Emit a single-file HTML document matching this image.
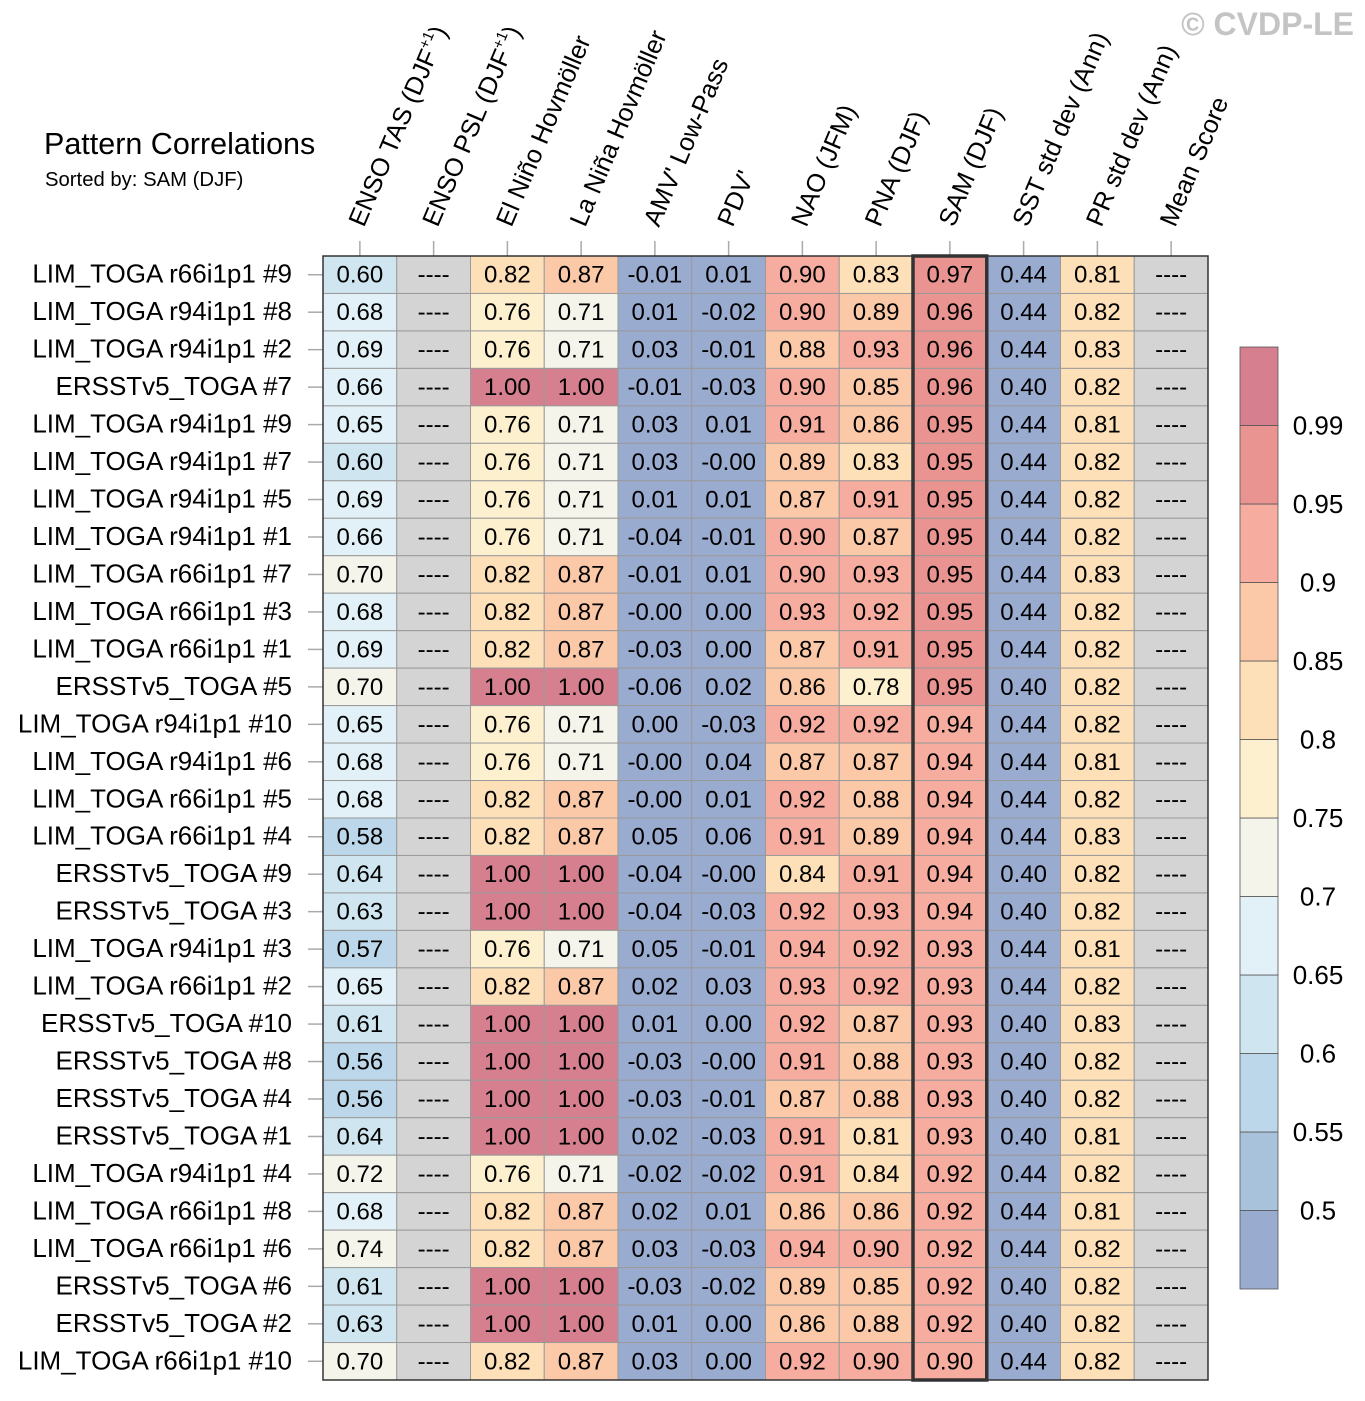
<!DOCTYPE html>
<html><head><meta charset="utf-8"><style>
html,body{margin:0;padding:0;background:#fff}
svg{display:block;font-family:"Liberation Sans",sans-serif}
</style></head><body>
<svg id="chart" width="1365" height="1401" viewBox="0 0 1365 1401" xmlns="http://www.w3.org/2000/svg">
<text x="1354" y="35" text-anchor="end" font-size="32" font-weight="bold" fill="#c4c4c4">© CVDP-LE</text>
<text x="44" y="154" font-size="30.5" fill="#000">Pattern Correlations</text>
<text x="45" y="186" font-size="20.3" fill="#000">Sorted by: SAM (DJF)</text>
<g id="heat"></g>
<g id="cbar"></g>
</svg>
<script>
const columns=["ENSO TAS (DJF+1)","ENSO PSL (DJF+1)","El Niño Hovmöller","La Niña Hovmöller","AMV' Low-Pass","PDV'","NAO (JFM)","PNA (DJF)","SAM (DJF)","SST std dev (Ann)","PR std dev (Ann)","Mean Score"];
const rowLabels=["LIM_TOGA r66i1p1 #9","LIM_TOGA r94i1p1 #8","LIM_TOGA r94i1p1 #2","ERSSTv5_TOGA #7","LIM_TOGA r94i1p1 #9","LIM_TOGA r94i1p1 #7","LIM_TOGA r94i1p1 #5","LIM_TOGA r94i1p1 #1","LIM_TOGA r66i1p1 #7","LIM_TOGA r66i1p1 #3","LIM_TOGA r66i1p1 #1","ERSSTv5_TOGA #5","LIM_TOGA r94i1p1 #10","LIM_TOGA r94i1p1 #6","LIM_TOGA r66i1p1 #5","LIM_TOGA r66i1p1 #4","ERSSTv5_TOGA #9","ERSSTv5_TOGA #3","LIM_TOGA r94i1p1 #3","LIM_TOGA r66i1p1 #2","ERSSTv5_TOGA #10","ERSSTv5_TOGA #8","ERSSTv5_TOGA #4","ERSSTv5_TOGA #1","LIM_TOGA r94i1p1 #4","LIM_TOGA r66i1p1 #8","LIM_TOGA r66i1p1 #6","ERSSTv5_TOGA #6","ERSSTv5_TOGA #2","LIM_TOGA r66i1p1 #10"];
const values=[
[0.60,null,0.82,0.87,-0.01,0.01,0.90,0.83,0.97,0.44,0.81,null],
[0.68,null,0.76,0.71,0.01,-0.02,0.90,0.89,0.96,0.44,0.82,null],
[0.69,null,0.76,0.71,0.03,-0.01,0.88,0.93,0.96,0.44,0.83,null],
[0.66,null,1.00,1.00,-0.01,-0.03,0.90,0.85,0.96,0.40,0.82,null],
[0.65,null,0.76,0.71,0.03,0.01,0.91,0.86,0.95,0.44,0.81,null],
[0.60,null,0.76,0.71,0.03,-0.00,0.89,0.83,0.95,0.44,0.82,null],
[0.69,null,0.76,0.71,0.01,0.01,0.87,0.91,0.95,0.44,0.82,null],
[0.66,null,0.76,0.71,-0.04,-0.01,0.90,0.87,0.95,0.44,0.82,null],
[0.70,null,0.82,0.87,-0.01,0.01,0.90,0.93,0.95,0.44,0.83,null],
[0.68,null,0.82,0.87,-0.00,0.00,0.93,0.92,0.95,0.44,0.82,null],
[0.69,null,0.82,0.87,-0.03,0.00,0.87,0.91,0.95,0.44,0.82,null],
[0.70,null,1.00,1.00,-0.06,0.02,0.86,0.78,0.95,0.40,0.82,null],
[0.65,null,0.76,0.71,0.00,-0.03,0.92,0.92,0.94,0.44,0.82,null],
[0.68,null,0.76,0.71,-0.00,0.04,0.87,0.87,0.94,0.44,0.81,null],
[0.68,null,0.82,0.87,-0.00,0.01,0.92,0.88,0.94,0.44,0.82,null],
[0.58,null,0.82,0.87,0.05,0.06,0.91,0.89,0.94,0.44,0.83,null],
[0.64,null,1.00,1.00,-0.04,-0.00,0.84,0.91,0.94,0.40,0.82,null],
[0.63,null,1.00,1.00,-0.04,-0.03,0.92,0.93,0.94,0.40,0.82,null],
[0.57,null,0.76,0.71,0.05,-0.01,0.94,0.92,0.93,0.44,0.81,null],
[0.65,null,0.82,0.87,0.02,0.03,0.93,0.92,0.93,0.44,0.82,null],
[0.61,null,1.00,1.00,0.01,0.00,0.92,0.87,0.93,0.40,0.83,null],
[0.56,null,1.00,1.00,-0.03,-0.00,0.91,0.88,0.93,0.40,0.82,null],
[0.56,null,1.00,1.00,-0.03,-0.01,0.87,0.88,0.93,0.40,0.82,null],
[0.64,null,1.00,1.00,0.02,-0.03,0.91,0.81,0.93,0.40,0.81,null],
[0.72,null,0.76,0.71,-0.02,-0.02,0.91,0.84,0.92,0.44,0.82,null],
[0.68,null,0.82,0.87,0.02,0.01,0.86,0.86,0.92,0.44,0.81,null],
[0.74,null,0.82,0.87,0.03,-0.03,0.94,0.90,0.92,0.44,0.82,null],
[0.61,null,1.00,1.00,-0.03,-0.02,0.89,0.85,0.92,0.40,0.82,null],
[0.63,null,1.00,1.00,0.01,0.00,0.86,0.88,0.92,0.40,0.82,null],
[0.70,null,0.82,0.87,0.03,0.00,0.92,0.90,0.90,0.44,0.82,null]];
const levels=[0.5,0.55,0.6,0.65,0.7,0.75,0.8,0.85,0.9,0.95,0.99];
const levelLabels=["0.5","0.55","0.6","0.65","0.7","0.75","0.8","0.85","0.9","0.95","0.99"];
const palette=["#9aabd0","#a9c2dc","#bcd7e9","#cfe6f0","#e2f1f7","#f4f4ea","#fdf0cf","#fde0b8","#fbc9a8","#f6ad9f","#e99490","#d57f8f"];
const highlightCol=8;

const NS="http://www.w3.org/2000/svg";
function mk(t,a,p){const e=document.createElementNS(NS,t);for(const k in a)e.setAttribute(k,a[k]);p.appendChild(e);return e;}
const X0=323,X1=1208,Y0=256,Y1=1380;
const cw=(X1-X0)/columns.length, rh=(Y1-Y0)/rowLabels.length;
const xc=i=>X0+i*cw, yr=j=>Y0+j*rh;
function color(v){if(v===null)return "#d4d4d4";let k=0;while(k<levels.length&&v>=levels[k]-1e-9)k++;return palette[k];}
function fmt(v){if(v===null)return "----";const s=Math.abs(v).toFixed(2);return (v<0||Object.is(v,-0))?"-"+s:s;}
const g=document.getElementById('heat');
values.forEach((row,j)=>{row.forEach((v,i)=>{
  const r=mk('rect',{x:xc(i),y:yr(j),width:cw,height:rh,fill:color(v),stroke:"#9a9a9a","stroke-width":1},g);
  
  
  const t=mk('text',{x:xc(i)+cw/2,y:yr(j)+rh/2+8,"text-anchor":"middle","font-size":24,fill:"#000"},g);
  
  
  t.textContent=fmt(v);
});});
rowLabels.forEach((l,j)=>{
  const t=mk('text',{x:292,y:yr(j)+rh/2+8,"text-anchor":"end","font-size":26,fill:"#000"},g);
  
  
  t.textContent=l;
  const tk=mk('line',{x1:308,x2:X0,y1:yr(j)+rh/2,y2:yr(j)+rh/2,stroke:"#aaa","stroke-width":1.5},g);
  
  
});
columns.forEach((c,i)=>{
  const cx=xc(i)+cw/2;
  const tk=mk('line',{x1:cx,x2:cx,y1:241,y2:Y0,stroke:"#aaa","stroke-width":1.5},g);
  
  
  const t=mk('text',{x:0,y:0,"font-size":25.5,fill:"#000",transform:`translate(${cx+4},228) rotate(-67)`},g);
  
  
  const m=c.match(/^(.*\(DJF)\+1\)$/);
  if(m){t.textContent=m[1];const s=mk('tspan',{"font-size":15,dy:-11},t);s.textContent="+1";const s2=mk('tspan',{dy:11},t);s2.textContent=")";}
  else t.textContent=c;
});
const b=mk('rect',{x:X0,y:Y0,width:X1-X0,height:Y1-Y0,fill:"none",stroke:"#333","stroke-width":1.5},g);


const hb=mk('rect',{x:xc(highlightCol),y:Y0,width:cw,height:Y1-Y0,fill:"none",stroke:"#333","stroke-width":3.5},g);



const cb=document.getElementById('cbar');
const CX=1240,CW=38,CY0=347,CY1=1289,bh=(CY1-CY0)/palette.length;
palette.forEach((p,k)=>{
  const r=mk('rect',{x:CX,y:CY1-(k+1)*bh,width:CW,height:bh,fill:p,stroke:"#555","stroke-width":0.8},cb);
  
  
});
levelLabels.forEach((l,k)=>{
  const t=mk('text',{x:1318,y:CY1-(k+1)*bh+9,"text-anchor":"middle","font-size":26,fill:"#000"},cb);
  
  
  t.textContent=l;
});
</script>
</body></html>
